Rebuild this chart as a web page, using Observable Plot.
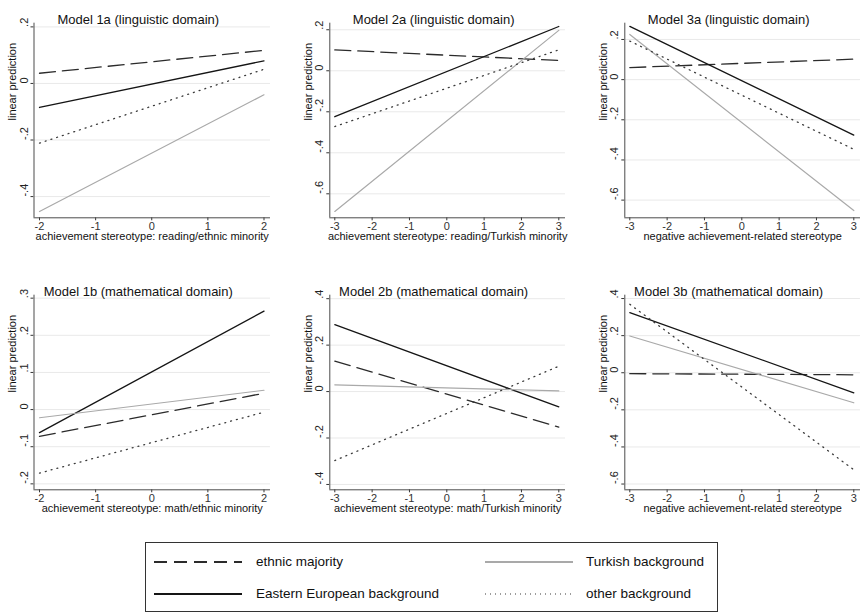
<!DOCTYPE html>
<html><head><meta charset="utf-8">
<script src="https://cdn.jsdelivr.net/npm/d3@7"></script>
<script src="https://cdn.jsdelivr.net/npm/@observablehq/plot@0.6"></script>
<style>
body{margin:0;background:#fff;font-family:"Liberation Sans",Arial,sans-serif;}
#wrap{position:relative;width:861px;height:615px;overflow:hidden;background:#fff}
.panel{position:absolute}
.panel svg{overflow:visible}
#legend{position:absolute;left:145px;top:542px;width:573px;height:70px;border:1.5px solid #333;box-sizing:border-box;background:#fff}
.lg{position:absolute;font-size:13.5px;color:#111;line-height:16px;white-space:nowrap}
.sw{position:absolute}
</style></head><body><div id="wrap"><div id="legend"></div></div>
<script>
// ---- data ----
const groups = ["ethnic majority", "Eastern European background", "Turkish background", "other background"];
const titles = ["Model 1a (linguistic domain)", "Model 2a (linguistic domain)", "Model 3a (linguistic domain)",
                "Model 1b (mathematical domain)", "Model 2b (mathematical domain)", "Model 3b (mathematical domain)"];
const xLabels = ["achievement stereotype: reading/ethnic minority", "achievement stereotype: reading/Turkish minority",
                 "negative achievement-related stereotype", "achievement stereotype: math/ethnic minority",
                 "achievement stereotype: math/Turkish minority", "negative achievement-related stereotype"];
const yLabel = "linear prediction";
const xTicksA = [-2, -1, 0, 1, 2];
const xTicksB = [-3, -2, -1, 0, 1, 2, 3];
const yTicks1a = [-0.4, -0.2, 0, 0.2];
const yTicks2a = [-0.6, -0.4, -0.2, 0, 0.2];
const yTicks3a = [-0.6, -0.4, -0.2, 0, 0.2];
const yTicks1b = [-0.2, -0.1, 0, 0.1, 0.2, 0.3];
const yTicks2b = [-0.4, -0.2, 0, 0.2, 0.4];
const yTicks3b = [-0.6, -0.4, -0.2, 0, 0.2, 0.4];
const yDomain1a = [-0.475, 0.213];
const yDomain2a = [-0.717, 0.232];
const yDomain3a = [-0.688, 0.281];
const yDomain1b = [-0.216, 0.308];
const yDomain2b = [-0.423, 0.415];
const yDomain3b = [-0.631, 0.418];
// predictions at the low and high end of x, in group order
const start1a = [0.036, -0.085, -0.453, -0.211];
const end1a   = [0.117,  0.080, -0.040,  0.050];
const start2a = [0.102, -0.224, -0.686, -0.272];
const end2a   = [0.050,  0.216,  0.197,  0.102];
const start3a = [0.060,  0.265,  0.225,  0.192];
const end3a   = [0.102, -0.276, -0.652, -0.347];
const start1b = [-0.072, -0.062, -0.022, -0.171];
const end1b   = [ 0.044,  0.265,  0.052, -0.007];
const start2b = [0.131,  0.288, 0.029, -0.297];
const end2b   = [-0.153, -0.066, 0.003, 0.109];
const start3b = [-0.005, 0.324,  0.198,  0.369];
const end3b   = [-0.011, -0.108, -0.162, -0.523];

// ---- styles ----
const styles = [
  {stroke: "#2b2b2b", strokeWidth: 1.3, strokeDasharray: "16,7"},
  {stroke: "#151515", strokeWidth: 1.3},
  {stroke: "#a9a9a9", strokeWidth: 1.2},
  {stroke: "#3a3a3a", strokeWidth: 1.3, strokeDasharray: "1,5"}
];
const cols = [
  {left: 0,   width: 285, marginLeft: 33.5, marginRight: 15, insetLeft: 5.5, insetRight: 6.5},
  {left: 285, width: 285, marginLeft: 44.3, marginRight: 5,  insetLeft: 5,   insetRight: 6.7},
  {left: 570, width: 291, marginLeft: 54.3, marginRight: 1,  insetLeft: 5,   insetRight: 6.7}
];
const rowsTop = [0, 272.3];

const panels = [
  {xT: xTicksA, yT: yTicks1a, yD: yDomain1a, s: start1a, e: end1a},
  {xT: xTicksB, yT: yTicks2a, yD: yDomain2a, s: start2a, e: end2a},
  {xT: xTicksB, yT: yTicks3a, yD: yDomain3a, s: start3a, e: end3a},
  {xT: xTicksA, yT: yTicks1b, yD: yDomain1b, s: start1b, e: end1b},
  {xT: xTicksB, yT: yTicks2b, yD: yDomain2b, s: start2b, e: end2b},
  {xT: xTicksB, yT: yTicks3b, yD: yDomain3b, s: start3b, e: end3b}
];

const fmtY = d => d === 0 ? "0" : String(+d.toFixed(2)).replace("0.", ".");
const wrap = document.getElementById("wrap");
const axisColor = "#4a4a4a";

panels.forEach((p, k) => {
  const c = cols[k % 3];
  const top = rowsTop[Math.floor(k / 3)];
  const x0 = p.xT[0], x1 = p.xT[p.xT.length - 1];
  const marks = [
    Plot.ruleY(p.yT, {stroke: "#e9e9e9", strokeWidth: 1})
  ];
  groups.forEach((g, i) => {
    const rows = [{x: x0, y: p.s[i], g}, {x: x1, y: p.e[i], g}];
    marks.push(Plot.line(rows, {x: "x", y: "y", ...styles[i]}));
  });
  marks.push(
    Plot.ruleX([x0], {dx: -c.insetLeft, stroke: axisColor, strokeWidth: 1}),
    Plot.ruleY([p.yD[0]], {stroke: axisColor, strokeWidth: 1}),
    Plot.text(p.yT, {y: d => d, text: fmtY, frameAnchor: "left", rotate: -90, dx: -10, fontSize: 11, fill: "#222"}),
    Plot.text([titles[k]], {text: d => d, frameAnchor: "top", dy: -8.6, dx: -14, fontSize: 13, fill: "#111"}),
    Plot.text([xLabels[k]], {text: d => d, frameAnchor: "bottom", dy: 22.3, fontSize: 11, fill: "#111"}),
    Plot.text([yLabel], {text: d => d, frameAnchor: "left", rotate: -90, dx: -21.5, fontSize: 11, fill: "#111"})
  );
  const chart = Plot.plot({
    width: c.width, height: 247.3,
    marginLeft: c.marginLeft, marginRight: c.marginRight, marginTop: 22.7, marginBottom: 30,
    x: {domain: [x0, x1], insetLeft: c.insetLeft, insetRight: c.insetRight, ticks: p.xT, tickSize: 3, tickPadding: 1.2, tickFormat: d => String(d), label: null},
    y: {domain: p.yD, ticks: p.yT, tickSize: 3, tickPadding: 0, tickFormat: () => "", label: null},
    style: {fontFamily: '"Liberation Sans", Arial, sans-serif', fontSize: "11px", color: "#333", background: "transparent", overflow: "visible"},
    marks
  });
  const div = document.createElement("div");
  div.className = "panel";
  div.style.left = c.left + "px";
  div.style.top = top + "px";
  div.appendChild(chart);
  wrap.insertBefore(div, document.getElementById("legend"));
});

// ---- legend ----
const legend = document.getElementById("legend");
const legendPos = [
  {sx: 8,   tx: 110, y: 19},
  {sx: 8,   tx: 110, y: 51},
  {sx: 339, tx: 440, y: 19},
  {sx: 339, tx: 440, y: 51}
];
const legendDash = ["13,7", null, null, "1,4"];
groups.forEach((g, i) => {
  const pos = legendPos[i];
  const ns = "http://www.w3.org/2000/svg";
  const svg = document.createElementNS(ns, "svg");
  svg.setAttribute("width", 88); svg.setAttribute("height", 6);
  svg.setAttribute("class", "sw");
  svg.style.left = pos.sx + "px"; svg.style.top = (pos.y - 3) + "px";
  const ln = document.createElementNS(ns, "line");
  ln.setAttribute("x1", 0); ln.setAttribute("x2", 88); ln.setAttribute("y1", 3); ln.setAttribute("y2", 3);
  ln.setAttribute("stroke", styles[i].stroke);
  ln.setAttribute("stroke-width", i === 3 ? 1.2 : 2);
  if (legendDash[i]) ln.setAttribute("stroke-dasharray", legendDash[i]);
  svg.appendChild(ln);
  legend.appendChild(svg);
  const t = document.createElement("div");
  t.className = "lg";
  t.textContent = g;
  t.style.left = pos.tx + "px"; t.style.top = (pos.y - 8) + "px";
  legend.appendChild(t);
});
</script></body></html>
